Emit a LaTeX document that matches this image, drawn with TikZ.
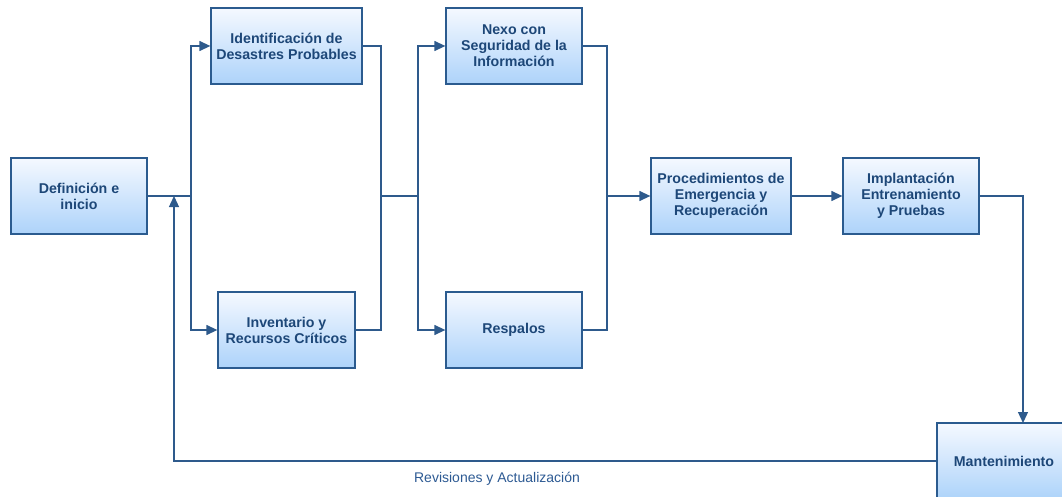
\documentclass[tikz,border=0pt]{standalone}
\usepackage{fontspec}
\setmainfont{Liberation Sans}
\usetikzlibrary{arrows.meta}
\definecolor{boxline}{HTML}{2B5B8F}
\definecolor{boxtext}{HTML}{1D4778}
\definecolor{wire}{HTML}{2E5A8C}
\definecolor{shadetop}{HTML}{F5F9FF}
\definecolor{shadebot}{HTML}{ADD3FA}
\definecolor{labeltext}{HTML}{2D5A93}
\begin{document}
\begin{tikzpicture}[x=1pt,y=-1pt,
  stage/.style={draw=boxline, line width=1.3pt, top color=shadetop, bottom color=shadebot,
    minimum width=136pt, minimum height=76pt, align=center, text=boxtext,
    font=\fontsize{14.2}{16}\selectfont\bfseries, inner sep=1pt},
  wireline/.style={draw=wire, line width=1.3pt},
  flow/.style={wireline, -{Triangle[length=11pt,width=10pt]}}]
\useasboundingbox (0,0) rectangle (1062,497);
\clip (0,0) rectangle (1062,497);

% stages
\node[stage] (def)   at (79,196)    {Definición e\\inicio};
\node[stage, minimum width=151pt] (ident) at (286.5,46) {Identificación de\\Desastres Probables};
\node[stage, minimum width=137pt] (inv)   at (286.5,330) {Inventario y\\Recursos Críticos};
\node[stage] (nexo)  at (514,46)    {Nexo con\\Seguridad de la\\Información};
\node[stage] (resp)  at (514,330)   {Respalos};
\node[stage, minimum width=140pt] (proc)  at (721,196) {Procedimientos de\\Emergencia y\\Recuperación};
\node[stage] (impl)  at (911,196)   {Implantación\\Entrenamiento\\y Pruebas};
\node[stage, minimum width=134pt] (mant)  at (1004,461) {Mantenimiento};

% junction points
\coordinate (j1) at (191,196);
\coordinate (j2) at (381,196);
\coordinate (j3) at (418,196);
\coordinate (j4) at (607,196);
\coordinate (fb) at (174,196);
\coordinate (mtop) at (1023,423);

% connectors
\draw[wireline] (def.east) -- (j1);
\draw[flow] (j1) |- (ident.west);
\draw[flow] (j1) |- (inv.west);
\draw[wireline] (ident.east) -| (j2);
\draw[wireline] (inv.east) -| (j2);
\draw[wireline] (j2) -- (j3);
\draw[flow] (j3) |- (nexo.west);
\draw[flow] (j3) |- (resp.west);
\draw[wireline] (nexo.east) -| (j4);
\draw[wireline] (resp.east) -| (j4);
\draw[flow] (j4) -- (proc.west);
\draw[flow] (proc.east) -- (impl.west);
\draw[flow] (impl.east) -| (mtop);
\draw[flow] (mant.west) -| (fb);

\node[text=labeltext, font=\fontsize{14}{16}\selectfont] (rev) at (497,479) {Revisiones y Actualización};
\end{tikzpicture}
\end{document}
